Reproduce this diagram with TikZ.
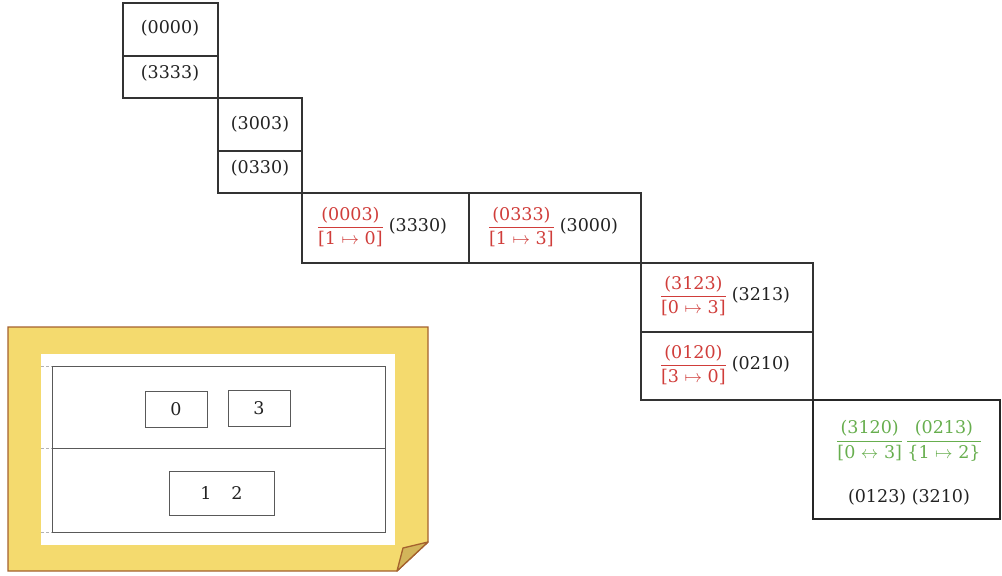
\documentclass[tikz,border=0pt]{standalone}
\usepackage{fix-cm}
\usepackage{amsmath}
\usepackage{fontspec}
\setmainfont{DejaVu Serif}
\definecolor{myred}{HTML}{D03D3A}
\definecolor{mygreen}{HTML}{67AE4E}
\definecolor{txtgray}{HTML}{222222}
\definecolor{noteyellow}{HTML}{F4DA6E}
\definecolor{notebrown}{HTML}{A4612E}
\definecolor{folddark}{HTML}{D2B55A}
\newcommand{\fr}[2]{$\dfrac{\text{#1}\rule[-2pt]{0pt}{2pt}}{\text{#2}\rule{0pt}{15pt}}$}
\begin{document}
\begin{tikzpicture}[x=1pt,y=-1pt,
  txt/.style={font=\fontsize{17.5}{21}\selectfont, text=txtgray, inner sep=0pt},
  cellline/.style={draw=black!80, line width=1.2pt},
  boldline/.style={draw=black!85, line width=2pt},
  notebox/.style={draw=black!65, line width=1pt, fill=white, inner sep=0pt}]
\useasboundingbox (0,0) rectangle (1002,576);

% staircase boxes
\draw[cellline] (123,3) rectangle (218,98);
\draw[cellline] (123,56) -- (218,56);
\draw[cellline] (218,98) rectangle (302,193);
\draw[cellline] (218,151) -- (302,151);
\draw[cellline] (302,193) rectangle (641,263);
\draw[cellline] (469,193) -- (469,263);
\draw[cellline] (641,263) rectangle (813,400);
\draw[cellline] (641,332) -- (813,332);
\draw[boldline] (813,400) rectangle (1000,519);

% texts
\node[txt] (t1) at (170,28) {(0000)};
\node[txt] (t2) at (170,73) {(3333)};
\node[txt] (t3) at (260,124) {(3003)};
\node[txt] (t4) at (260,168) {(0330)};
\node[txt] (t5) at (382,227) {{\color{myred}\fr{(0003)}{[1 $\mapsto$ 0]}}\hspace{5pt}(3330)};
\node[txt] (t6) at (553,227) {{\color{myred}\fr{(0333)}{[1 $\mapsto$ 3]}}\hspace{5pt}(3000)};
\node[txt] (t7) at (725,296) {{\color{myred}\fr{(3123)}{[0 $\mapsto$ 3]}}\hspace{5pt}(3213)};
\node[txt] (t8) at (725,365) {{\color{myred}\fr{(0120)}{[3 $\mapsto$ 0]}}\hspace{5pt}(0210)};
\node[txt] (t9) at (909,441) {{\color{mygreen}\fr{(3120)}{[0 $\leftrightarrow$ 3]}\hspace{3pt}\fr{(0213)}{\{1 $\mapsto$ 2\}}}};
\node[txt] (t10) at (909,497) {(0123) (3210)};

% sticky note
\draw[notebrown, line width=1.3pt, fill=noteyellow]
  (8,327) -- (428,327) -- (428,542) -- (397,571) -- (8,571) -- cycle;
\draw[notebrown, line width=1.3pt, fill=folddark, line join=round]
  (428,542) -- (403,548) -- (397,571) -- cycle;
\fill[white] (41,354) rectangle (395,545);
\draw[black!65, line width=1pt] (52,366) rectangle (385,532);
\draw[black!65, line width=1pt] (52,448) -- (385,448);
\draw[black!30, densely dashed, line width=0.6pt] (41,366) -- (52,366);
\draw[black!30, densely dashed, line width=0.6pt] (41,448) -- (52,448);
\draw[black!30, densely dashed, line width=0.6pt] (41,532) -- (52,532);
\node[notebox, minimum width=62, minimum height=36, txt] (n0) at (176,409) {0};
\node[notebox, minimum width=62, minimum height=36, txt] (n3) at (259,408) {3};
\node[notebox, minimum width=105, minimum height=44, txt] (n12) at (221.5,493) {1\hspace{20pt}2};
\end{tikzpicture}
\end{document}
